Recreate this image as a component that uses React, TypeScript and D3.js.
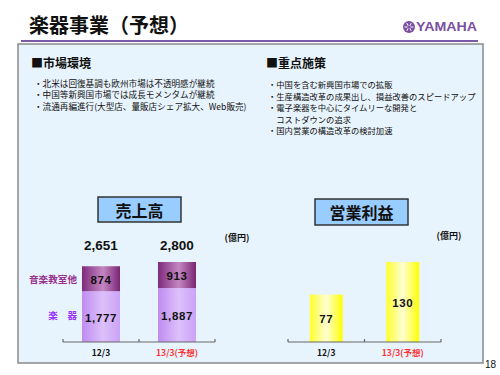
import React from "react";
import * as d3 from "d3";

const categories = ["12/3", "13/3(予想)"];
const instruments = [1777, 1887];
const schoolOther = [874, 913];
const totals = [2651, 2800];
const opIncome = [77, 130];
const instrumentLabels = ["1,777", "1,887"];
const schoolLabels = ["874", "913"];
const totalLabels = ["2,651", "2,800"];
const opLabels = ["77", "130"];

const leftBullets = [
  "・北米は回復基調も欧州市場は不透明感が継続",
  "・中国等新興国市場では成長モメンタムが継続",
  "・流通再編進行(大型店、量販店シェア拡大、Web販売)",
];
const rightBullets = [
  "・中国を含む新興国市場での拡販",
  "・生産構造改革の成果出し、損益改善のスピードアップ",
  "・電子楽器を中心にタイムリーな開発と",
  "　コストダウンの追求",
  "・国内営業の構造改革の検討加速",
];

const JP = "'Noto Sans CJK JP', 'Noto Sans', sans-serif";
const NUM = "'Liberation Sans', Arial, sans-serif";

export default function App() {
  const baseY = 342;
  const topY = 262;
  const xs = d3.scaleBand<string>().domain(categories).range([63, 215]).padding(0);
  const ys = d3.scaleLinear().domain([0, 2800]).range([baseY, topY]);
  const xo = d3.scaleBand<string>().domain(categories).range([288, 441]).padding(0);
  const yo = d3.scaleLinear().domain([0, 130]).range([baseY, topY]);
  const sbw = xs.bandwidth() * 0.5;
  const obw = xo.bandwidth() * 0.43;

  const axis = (sc: d3.ScaleBand<string>) => {
    const r = sc.range();
    const ticks = [r[0], ...categories.map((c) => (sc(c) as number) + sc.bandwidth())];
    return (
      <g stroke="#666" strokeWidth={1.2} fill="none">
        <line x1={r[0]} x2={r[1]} y1={baseY} y2={baseY} />
        {ticks.map((t, i) => (
          <line key={i} x1={t} x2={t} y1={baseY - 3} y2={baseY} />
        ))}
      </g>
    );
  };

  return (
    <svg width={500} height={375} style={{ position: "absolute", left: 0, top: 0 }}>
      <defs>
        <linearGradient id="gTop" x1="0" x2="1" y1="0" y2="0">
          <stop offset="0" stopColor="#7e2a7c" />
          <stop offset="0.55" stopColor="#c487c2" />
          <stop offset="1" stopColor="#7a2474" />
        </linearGradient>
        <linearGradient id="gBot" x1="0" x2="1" y1="0" y2="0">
          <stop offset="0" stopColor="#c08cf0" />
          <stop offset="0.55" stopColor="#dcc0fb" />
          <stop offset="1" stopColor="#cba2f5" />
        </linearGradient>
        <linearGradient id="gYel" x1="0" x2="1" y1="0" y2="0">
          <stop offset="0" stopColor="#ffff2a" />
          <stop offset="0.5" stopColor="#ffffd2" />
          <stop offset="1" stopColor="#ffff00" />
        </linearGradient>
      </defs>
      <rect x={0} y={0} width={500} height={375} fill="#ffffff" />
      {/* Title */}
      <text x={29} y={24} dominantBaseline="central" fontFamily={JP} fontWeight="bold" fontSize={20} fill="#111">
        楽器事業（予想）
      </text>
      {/* Logo */}
      <g>
        <circle cx={409} cy={27} r={6} fill="#7b4fa0" />
        {[0, 60, 120].map((a) => (
          <line
            key={a}
            x1={409 + 4.5 * Math.cos((a * Math.PI) / 180)}
            y1={27 + 4.5 * Math.sin((a * Math.PI) / 180)}
            x2={409 - 4.5 * Math.cos((a * Math.PI) / 180)}
            y2={27 - 4.5 * Math.sin((a * Math.PI) / 180)}
            stroke="#fff"
            strokeWidth={1}
          />
        ))}
        <circle cx={409} cy={27} r={1.6} fill="#7b4fa0" />
        <text x={416} y={27} dominantBaseline="central" fontFamily={NUM} fontWeight="bold" fontSize={12.5} fill="#7b4fa0" textLength={61} lengthAdjust="spacingAndGlyphs">
          YAMAHA
        </text>
      </g>
      <line x1={21} x2={478} y1={41} y2={41} stroke="#7a5aa6" strokeWidth={2} />
      {/* Panel */}
      <rect x={18} y={44} width={465} height={319} fill="#e8f4fd" stroke="#8a8a8a" strokeWidth={1.5} />
      {/* Headers */}
      <text x={31} y={62} dominantBaseline="central" fontFamily={JP} fontWeight="bold" fontSize={12} fill="#111">■市場環境</text>
      <text x={266} y={62} dominantBaseline="central" fontFamily={JP} fontWeight="bold" fontSize={12} fill="#111">■重点施策</text>
      {leftBullets.map((t, i) => (
        <text key={i} x={34} y={83 + i * 11.3} dominantBaseline="central" fontFamily={JP} fontSize={8.6} fill="#111">{t}</text>
      ))}
      {rightBullets.map((t, i) => (
        <text key={i} x={268} y={84 + i * 11.5} dominantBaseline="central" fontFamily={JP} fontSize={8.3} fill="#111">{t}</text>
      ))}
      {/* Title boxes */}
      <rect x={98} y={197} width={83} height={25} fill="#99ccff" stroke="#333" strokeWidth={1.5} />
      <text x={139.5} y={210} textAnchor="middle" dominantBaseline="central" fontFamily={JP} fontWeight="bold" fontSize={16} fill="#111">売上高</text>
      <rect x={315} y={199} width={93} height={26} fill="#99ccff" stroke="#333" strokeWidth={1.5} />
      <text x={361.5} y={212} textAnchor="middle" dominantBaseline="central" fontFamily={JP} fontWeight="bold" fontSize={16} fill="#111">営業利益</text>
      {/* Units */}
      <text x={237} y={237} textAnchor="middle" dominantBaseline="central" fontFamily={JP} fontWeight="bold" fontSize={9} fill="#111">(億円)</text>
      <text x={449} y={235} textAnchor="middle" dominantBaseline="central" fontFamily={JP} fontWeight="bold" fontSize={9} fill="#111">(億円)</text>
      {/* Sales bars */}
      {categories.map((c, i) => {
        const cx = (xs(c) as number) + xs.bandwidth() / 2;
        const x0 = cx - sbw / 2;
        const yMid = ys(instruments[i]);
        const yTop = ys(instruments[i] + schoolOther[i]);
        return (
          <g key={c}>
            <rect x={x0} y={yMid} width={sbw} height={baseY - yMid} fill="url(#gBot)" />
            <rect x={x0} y={yTop} width={sbw} height={yMid - yTop} fill="url(#gTop)" />
            <text x={cx} y={(yMid + baseY) / 2 + 1} textAnchor="middle" dominantBaseline="central" fontFamily={NUM} fontWeight="bold" fontSize={11.5} fill="#111" letterSpacing={0.6}>{instrumentLabels[i]}</text>
            <text x={cx} y={(yTop + yMid) / 2 + 1} textAnchor="middle" dominantBaseline="central" fontFamily={NUM} fontWeight="bold" fontSize={11.5} fill="#111" letterSpacing={0.6}>{schoolLabels[i]}</text>
            <text x={cx} y={245} textAnchor="middle" dominantBaseline="central" fontFamily={NUM} fontWeight="bold" fontSize={13.5} fill="#111">{totalLabels[i]}</text>
            <text x={cx} y={352} textAnchor="middle" dominantBaseline="central" fontFamily={JP} fontWeight="bold" fontSize={8.5} fill={i === 1 ? "#ff3333" : "#111"}>{c}</text>
          </g>
        );
      })}
      {axis(xs)}
      <text x={77} y={279} textAnchor="end" dominantBaseline="central" fontFamily={JP} fontWeight="bold" fontSize={9.6} fill="#99338f">音楽教室他</text>
      <text x={77} y={315} textAnchor="end" dominantBaseline="central" fontFamily={JP} fontWeight="bold" fontSize={9.6} fill="#9933ff">楽　器</text>
      {/* Operating income bars */}
      {categories.map((c, i) => {
        const cx = (xo(c) as number) + xo.bandwidth() / 2;
        const y = yo(opIncome[i]);
        return (
          <g key={c}>
            <rect x={cx - obw / 2} y={y} width={obw} height={baseY - y} fill="url(#gYel)" />
            <text x={cx} y={(y + baseY) / 2 + 1} textAnchor="middle" dominantBaseline="central" fontFamily={NUM} fontWeight="bold" fontSize={11.5} fill="#111" letterSpacing={0.6}>{opLabels[i]}</text>
            <text x={cx} y={352} textAnchor="middle" dominantBaseline="central" fontFamily={JP} fontWeight="bold" fontSize={8.5} fill={i === 1 ? "#ff3333" : "#111"}>{c}</text>
          </g>
        );
      })}
      {axis(xo)}
      <text x={485} y={364} dominantBaseline="central" fontFamily={NUM} fontSize={10} fill="#111">18</text>
    </svg>
  );
}
